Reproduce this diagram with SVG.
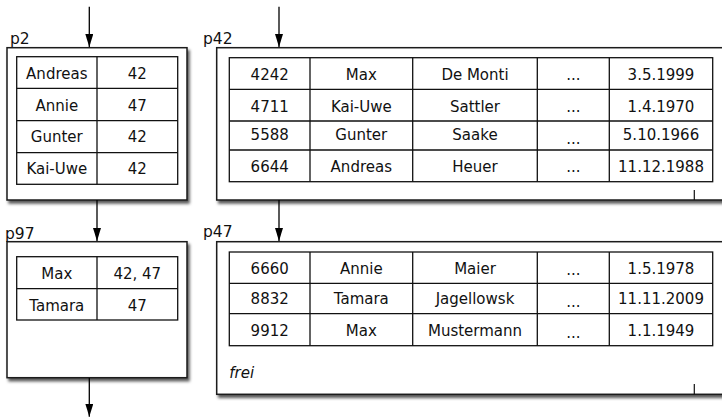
<svg xmlns="http://www.w3.org/2000/svg" width="722" height="418" viewBox="0 0 722 418">
  <style>
    text { font-family: "DejaVu Sans", "Liberation Sans", sans-serif; font-size: 15px; fill: #111; }
    .c { text-anchor: middle; }
    .lbl { font-size: 15.5px; }
    .page { fill: #fff; stroke: #1a1a1a; stroke-width: 1.5; filter: url(#shadow); }
    .grid { fill: #fff; stroke: #111; stroke-width: 1.3; }
    .rule { stroke: #111; stroke-width: 1.3; fill: none; }
    .wire { stroke: #000; stroke-width: 1.3; fill: none; marker-end: url(#arrow); }
    .tick { stroke: #111; stroke-width: 1.2; }
  </style>
  <defs>
    <filter id="shadow" x="-5%" y="-5%" width="115%" height="120%">
      <feDropShadow dx="2" dy="3" stdDeviation="1.6" flood-color="#000" flood-opacity="0.65"/>
    </filter>
    <marker id="arrow" viewBox="0 0 13 8" refX="13" refY="4" markerWidth="13" markerHeight="8" markerUnits="userSpaceOnUse" orient="auto">
      <path d="M0,0 L13,4 L0,8 z" fill="#000"/>
    </marker>
  </defs>
  <rect width="722" height="418" fill="#fff"/>

  <!-- index page p2 -->
  <g id="p2">
    <rect class="page" x="7" y="47.7" width="180" height="152.3"/>
    <text class="lbl" x="10" y="44">p2</text>
    <rect class="grid" x="16.7" y="56.7" width="161" height="127.6"/>
    <path class="rule" d="M97,56.7 V184.3 M16.7,88.3 H177.7 M16.7,120.7 H177.7 M16.7,152.7 H177.7"/>
    <text class="c" x="56.8" y="79.3">Andreas</text><text class="c" x="137.3" y="79.3">42</text>
    <text class="c" x="56.8" y="110.5">Annie</text><text class="c" x="137.3" y="110.5">47</text>
    <text class="c" x="56.8" y="142.3">Gunter</text><text class="c" x="137.3" y="142.3">42</text>
    <text class="c" x="56.8" y="174">Kai-Uwe</text><text class="c" x="137.3" y="174">42</text>
  </g>

  <!-- index page p97 -->
  <g id="p97">
    <rect class="page" x="7" y="241.7" width="180" height="136"/>
    <text class="lbl" x="5" y="238.5">p97</text>
    <rect class="grid" x="16.7" y="256.7" width="161" height="63.3"/>
    <path class="rule" d="M97,256.7 V320 M16.7,288.7 H177.7"/>
    <text class="c" x="56.8" y="278.5">Max</text><text class="c" x="137.3" y="278.5">42, 47</text>
    <text class="c" x="56.8" y="310.7">Tamara</text><text class="c" x="137.3" y="310.7">47</text>
  </g>

  <!-- data page p42 -->
  <g id="p42">
    <rect class="page" x="216.7" y="47.7" width="530" height="152.3"/>
    <text class="lbl" x="203" y="43.5">p42</text>
    <rect class="grid" x="229.3" y="57.7" width="483.4" height="124"/>
    <path class="rule" d="M310,57.7 V181.7 M412.7,57.7 V181.7 M537.3,57.7 V181.7 M609.3,57.7 V181.7 M229.3,89.3 H712.7 M229.3,121 H712.7 M229.3,150 H712.7"/>
    <text class="c" x="269.7" y="80">4242</text><text class="c" x="361.3" y="80">Max</text><text class="c" x="475" y="80">De Monti</text><text class="c" x="573.3" y="80">...</text><text class="c" x="661" y="80">3.5.1999</text>
    <text class="c" x="269.7" y="111.7">4711</text><text class="c" x="361.3" y="111.7">Kai-Uwe</text><text class="c" x="475" y="111.7">Sattler</text><text class="c" x="573.3" y="112">...</text><text class="c" x="661" y="111.7">1.4.1970</text>
    <text class="c" x="269.7" y="140">5588</text><text class="c" x="361.3" y="140">Gunter</text><text class="c" x="475" y="140">Saake</text><text class="c" x="573.3" y="144">...</text><text class="c" x="661" y="139.5">5.10.1966</text>
    <text class="c" x="269.7" y="171.7">6644</text><text class="c" x="361.3" y="171.7">Andreas</text><text class="c" x="475" y="171.7">Heuer</text><text class="c" x="573.3" y="172">...</text><text class="c" x="661" y="171.7">11.12.1988</text>
    <line class="tick" x1="694.3" y1="190" x2="694.3" y2="200"/>
  </g>

  <!-- data page p47 -->
  <g id="p47">
    <rect class="page" x="216.7" y="241.7" width="530" height="152.6"/>
    <text class="lbl" x="203" y="236.8">p47</text>
    <rect class="grid" x="229.3" y="252" width="483.4" height="93.7"/>
    <path class="rule" d="M310,252 V345.7 M412.7,252 V345.7 M537.3,252 V345.7 M609.3,252 V345.7 M229.3,283.3 H712.7 M229.3,313.7 H712.7"/>
    <text class="c" x="269.7" y="274">6660</text><text class="c" x="361.3" y="274">Annie</text><text class="c" x="475" y="274">Maier</text><text class="c" x="573.3" y="274.5">...</text><text class="c" x="661" y="274">1.5.1978</text>
    <text class="c" x="269.7" y="304.3">8832</text><text class="c" x="361.3" y="304.3">Tamara</text><text class="c" x="475" y="304.3">Jagellowsk</text><text class="c" x="573.3" y="306.7">...</text><text class="c" x="661" y="304.3">11.11.2009</text>
    <text class="c" x="269.7" y="336">9912</text><text class="c" x="361.3" y="336">Max</text><text class="c" x="475" y="336">Mustermann</text><text class="c" x="573.3" y="337.5">...</text><text class="c" x="661" y="336">1.1.1949</text>
    <text x="229.3" y="378.3" font-style="italic">frei</text>
    <line class="tick" x1="694.3" y1="384" x2="694.3" y2="394.3"/>
  </g>

  <!-- page links -->
  <g id="connectors">
    <line class="wire" x1="89.3" y1="6.7" x2="89.3" y2="47"/>
    <line class="wire" x1="97" y1="200" x2="97" y2="241"/>
    <line class="wire" x1="89.3" y1="378" x2="89.3" y2="416.7"/>
    <line class="wire" x1="279" y1="6.7" x2="279" y2="47"/>
    <line class="wire" x1="279" y1="200" x2="279" y2="241"/>
  </g>
</svg>
